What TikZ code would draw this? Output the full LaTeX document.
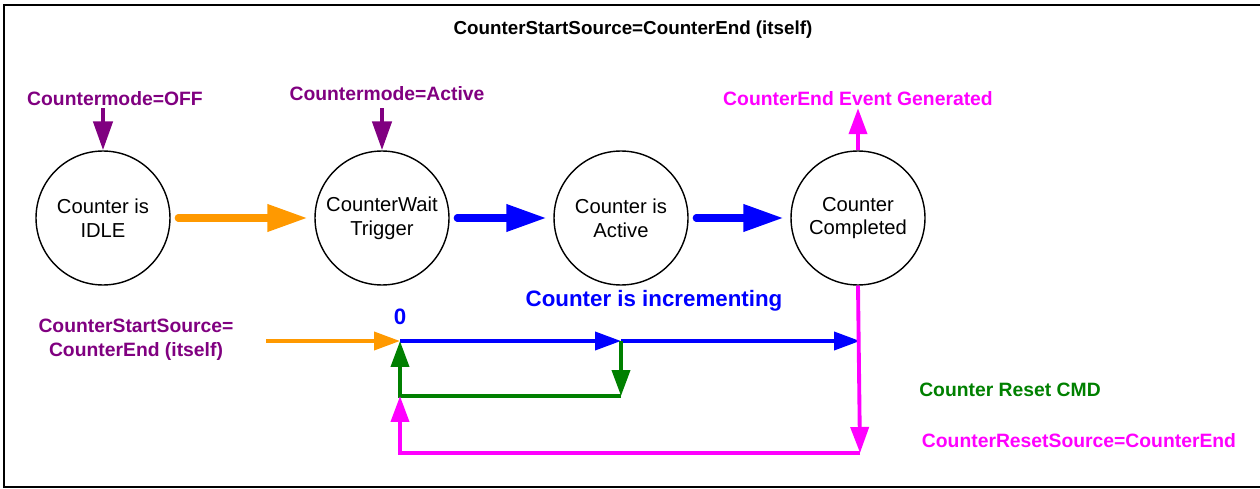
\documentclass[tikz,border=0pt]{standalone}
\usepackage{fontspec}
\setmainfont{Liberation Sans}
\usepackage{xcolor}
\definecolor{cpurple}{RGB}{128,0,128}
\definecolor{corange}{RGB}{255,153,0}
\definecolor{cblue}{RGB}{0,0,255}
\definecolor{cgreen}{RGB}{0,128,0}
\definecolor{cmagenta}{RGB}{255,0,255}
\usetikzlibrary{arrows.meta,positioning}

\begin{document}
\begin{tikzpicture}[x=0.02cm, y=-0.02cm,
  state/.style={draw, circle, line width=0.8pt, minimum size=2.68cm, inner sep=0pt,
    align=center, font=\fontsize{11.5}{13.6}\selectfont},
  lbl/.style={font=\fontsize{11}{13.6}\selectfont\bfseries, inner sep=1pt, align=center},
  bigarrow/.style={line width=4pt, line cap=round, shorten <=0.15cm, shorten >=0.14cm,
    -{Triangle[length=0.8cm, width=0.52cm]}},
  thinarrow/.style={line width=2.2pt, -{Triangle[length=0.52cm, width=0.36cm]}},
  modearrow/.style={line width=2.6pt, cpurple, -{Triangle[length=0.58cm, width=0.38cm]}}]

\useasboundingbox (0,0) rectangle (1260,489);
\draw[line width=1.1pt] (1262,5) -- (4,5) -- (4,487) -- (1262,487);

\node[lbl, font=\fontsize{10.7}{13}\selectfont\bfseries] (title) at (633,30)
  {CounterStartSource=CounterEnd (itself)};

% States
\node[state] (idle) at (103,218) {Counter is\\IDLE};
\node[state] (wait) at (382,218) {CounterWait\\Trigger};
\node[state] (active) at (621,218) {Counter is\\Active};
\node[state] (done) at (858,218) {Counter\\Completed};

\draw[bigarrow, corange] (idle.east) -- (wait.west);
\draw[bigarrow, cblue] (wait.east) -- (active.west);
\draw[bigarrow, cblue] (active.east) -- (done.west);

% Mode labels
\node[lbl, cpurple] (modeoff) at (115,99) {Countermode=OFF};
\node[lbl, cpurple] (modeact) at (387,94) {Countermode=Active};
\node[lbl, cmagenta] (evt) at (858,99) {CounterEnd Event Generated};

\draw[modearrow] (modeoff.south -| idle.north) -- (idle.north);
\draw[modearrow, shorten <=3pt] (modeact.south -| wait.north) -- (wait.north);
\draw[thinarrow, cmagenta] (done.north) -- (evt.south);

% Counting line
\node[lbl, font=\fontsize{12.7}{15}\selectfont\bfseries, cblue] (incr) at (654,301)
  {Counter is incrementing};
\node[lbl, font=\fontsize{12.7}{15}\selectfont\bfseries, cblue] (zero) at (400,317) {0};
\node[lbl, cpurple] (startsrc) at (136,340) {CounterStartSource=\\CounterEnd (itself)};
\node[lbl, cgreen] (resetcmd) at (1010,390) {Counter Reset CMD};
\node[lbl, cmagenta] (resetsrc) at (1079,441) {CounterResetSource=CounterEnd};

\coordinate (ostart) at (266,341);
\coordinate (z0) at (400,341);
\coordinate (zmid) at (621,341);
\coordinate (zend) at (860,341);
\coordinate (g1) at (621,396);
\coordinate (g0) at (400,396);
\coordinate (m1) at (860,453);
\coordinate (m0) at (400,453);

\draw[thinarrow, corange] (ostart) -- (z0);
\draw[thinarrow, cblue] (z0) -- (zmid);
\draw[thinarrow, cblue] (zmid) -- (zend);

% Reset paths
\draw[thinarrow, cgreen] (zmid) -- (g1);
\draw[thinarrow, cgreen] (g1) -- (g0) -- (z0);
\draw[thinarrow, cmagenta] (done.south) -- (m1);
\draw[thinarrow, cmagenta] (m1) -- (m0) -- (g0);

\end{tikzpicture}
\end{document}
